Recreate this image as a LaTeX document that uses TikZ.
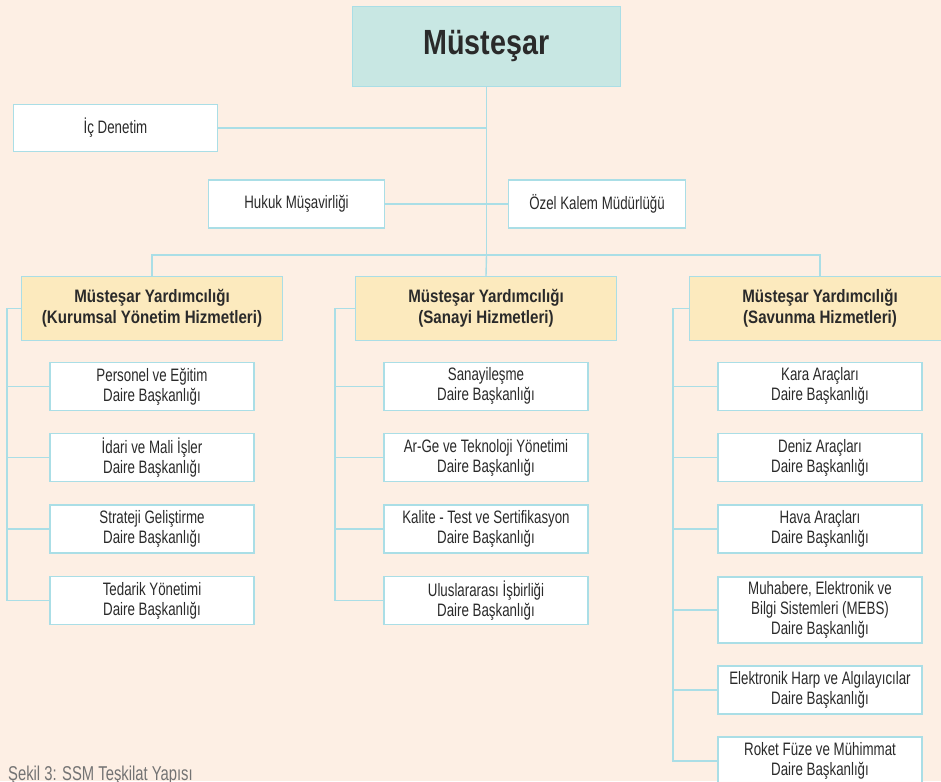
\documentclass[tikz,border=0pt]{standalone}
\usepackage{fontspec}
\setmainfont{Liberation Sans}[FakeStretch=0.74]
\newfontfamily\boldnarrow{Liberation Sans}[FakeStretch=0.84]
\newfontfamily\titlenarrow{Liberation Sans}[FakeStretch=0.82]
\usetikzlibrary{positioning}
\definecolor{bgpeach}{RGB}{253,239,228}
\definecolor{topteal}{RGB}{200,231,227}
\definecolor{deputyfill}{RGB}{252,234,190}
\definecolor{boxline}{RGB}{170,222,230}
\definecolor{inkgray}{RGB}{42,42,42}
\definecolor{capgray}{RGB}{115,115,115}

\begin{document}
\begin{tikzpicture}[x=1pt,y=1pt,thin]
\tikzstyle{box}=[draw=boxline,line width=1.4pt,inner sep=0pt,align=center,text=inkgray]
\tikzstyle{unit}=[box,fill=white,minimum width=204pt,minimum height=48pt,font=\fontsize{18}{20}\selectfont]
\tikzstyle{deputy}=[box,fill=deputyfill,minimum width=261pt,minimum height=64pt,font=\boldnarrow\bfseries\fontsize{18}{21}\selectfont]
\tikzstyle{link}=[draw=boxline,line width=1.4pt]

\fill[bgpeach] (0,0) rectangle (941,-781);
\useasboundingbox (0,0) rectangle (941,-781);

% top level
\node[box,fill=topteal,minimum width=268pt,minimum height=80pt,font=\titlenarrow\bfseries\fontsize{35}{40}\selectfont] (must) at (486.5,-46.5) {Müsteşar};
\node[unit,minimum height=47pt] (icden) at (115.5,-128) {İç Denetim};
\node[unit,minimum width=176pt] (hukuk) at (296.5,-204) {Hukuk Müşavirliği};
\node[unit,minimum width=177pt] (ozel) at (597,-204) {Özel Kalem Müdürlüğü};
\coordinate (bus) at (486.5,-255);

% deputies
\node[deputy] (kyA) at (152,-308.5) {Müsteşar Yardımcılığı\\(Kurumsal Yönetim Hizmetleri)};
\node[deputy] (syA) at (486,-308.5) {Müsteşar Yardımcılığı\\(Sanayi Hizmetleri)};
\node[deputy] (svA) at (820,-308.5) {Müsteşar Yardımcılığı\\(Savunma Hizmetleri)};

% departments, left
\node[unit] (ped) [below=20.4pt of kyA] {Personel ve Eğitim\\Daire Başkanlığı};
\node[unit] (imd) [below=22pt of ped] {İdari ve Mali İşler\\Daire Başkanlığı};
\node[unit] (sgd) [below=22pt of imd] {Strateji Geliştirme\\Daire Başkanlığı};
\node[unit] (tyd) [below=22pt of sgd] {Tedarik Yönetimi\\Daire Başkanlığı};

% departments, middle
\node[unit] (snd) [below=20.4pt of syA] {Sanayileşme\\Daire Başkanlığı};
\node[unit] (agd) [below=22pt of snd] {Ar-Ge ve Teknoloji Yönetimi\\Daire Başkanlığı};
\node[unit] (ktd) [below=22pt of agd] {Kalite - Test ve Sertifikasyon\\Daire Başkanlığı};
\node[unit] (uid) [below=22pt of ktd] {Uluslararası İşbirliği\\Daire Başkanlığı};

% departments, right
\node[unit] (kad) [below=20.4pt of svA] {Kara Araçları\\Daire Başkanlığı};
\node[unit] (dad) [below=22pt of kad] {Deniz Araçları\\Daire Başkanlığı};
\node[unit] (had) [below=22pt of dad] {Hava Araçları\\Daire Başkanlığı};
\node[unit,minimum height=66pt] (mbd) [below=22.6pt of had] {Muhabere, Elektronik ve\\Bilgi Sistemleri (MEBS)\\Daire Başkanlığı};
\node[unit] (ehd) [below=21.6pt of mbd] {Elektronik Harp ve Algılayıcılar\\Daire Başkanlığı};
\node[unit] (rfd) [below=21.6pt of ehd] {Roket Füze ve Mühimmat\\Daire Başkanlığı};

\node[anchor=base west,inner sep=0pt,text=capgray,font=\fontsize{20}{22}\selectfont] (cap) at (8,-780) {Şekil 3: SSM Teşkilat Yapısı};

% connectors
\draw[link] (must.south) -- (bus);
\draw[link] (icden.east) -- (icden.east -| must.south);
\draw[link] (hukuk.east) -- (ozel.west);
\draw[link] (kyA.north) |- (bus) -| (svA.north);
\draw[link] (bus) -- (syA.north);

\draw[link] (kyA.west) -- ++(-14,0) |- (ped.west);
\draw[link] (kyA.west) -- ++(-14,0) |- (imd.west);
\draw[link] (kyA.west) -- ++(-14,0) |- (sgd.west);
\draw[link] (kyA.west) -- ++(-14,0) |- (tyd.west);

\draw[link] (syA.west) -- ++(-20,0) |- (snd.west);
\draw[link] (syA.west) -- ++(-20,0) |- (agd.west);
\draw[link] (syA.west) -- ++(-20,0) |- (ktd.west);
\draw[link] (syA.west) -- ++(-20,0) |- (uid.west);

\draw[link] (svA.west) -- ++(-16,0) |- (kad.west);
\draw[link] (svA.west) -- ++(-16,0) |- (dad.west);
\draw[link] (svA.west) -- ++(-16,0) |- (had.west);
\draw[link] (svA.west) -- ++(-16,0) |- (mbd.west);
\draw[link] (svA.west) -- ++(-16,0) |- (ehd.west);
\draw[link] (svA.west) -- ++(-16,0) |- (rfd.west);
\end{tikzpicture}
\end{document}
